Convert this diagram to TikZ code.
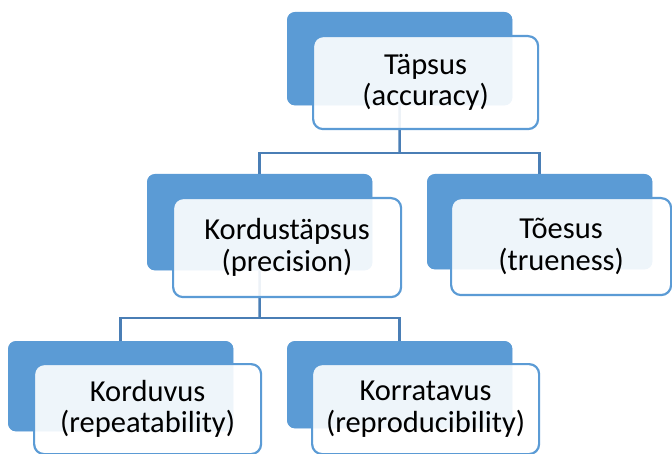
\documentclass[tikz,border=0pt]{standalone}
\usepackage{fontspec}
\setmainfont{Carlito}
\definecolor{backblue}{HTML}{5B9BD5}
\definecolor{connblue}{HTML}{4A7EB5}
\begin{document}
\begin{tikzpicture}[x=1pt,y=-1pt,
  backbox/.style={draw=none,fill=backblue,rounded corners=8pt,inner sep=0pt,anchor=north west},
  frontbox/.style={draw=backblue,line width=2.2pt,fill=white,fill opacity=0.9,text opacity=1,
    rounded corners=10pt,inner sep=0pt,anchor=north west,align=center,
    font=\fontsize{30.5}{31.5}\selectfont},
  conn/.style={draw=connblue,line width=2.5pt}]
\useasboundingbox (0,0) rectangle (672,454);
% back boxes
\node[backbox,minimum width=225pt,minimum height=93pt] (tb) at (287,12) {};
\node[backbox,minimum width=225pt,minimum height=96pt] (mlb) at (147,174) {};
\node[backbox,minimum width=225pt,minimum height=95pt] (mrb) at (427,174) {};
\node[backbox,minimum width=225pt,minimum height=90pt] (blb) at (8,341) {};
\node[backbox,minimum width=225pt,minimum height=87pt] (brb) at (287,341) {};
% connectors
\coordinate (j1) at (399.5,153);
\coordinate (j2) at (259.5,318);
\draw[conn] (tb.south) -- (j1);
\draw[conn] (mlb.north) |- (j1) -| (mrb.north);
\draw[conn] (mlb.south) -- (j2);
\draw[conn] (blb.north) |- (j2) -| (brb.north);
% redraw back boxes over connectors
\fill[backblue,rounded corners=8pt] (tb.north west) rectangle (tb.south east);
\fill[backblue,rounded corners=8pt] (mlb.north west) rectangle (mlb.south east);
\fill[backblue,rounded corners=8pt] (mrb.north west) rectangle (mrb.south east);
\fill[backblue,rounded corners=8pt] (blb.north west) rectangle (blb.south east);
\fill[backblue,rounded corners=8pt] (brb.north west) rectangle (brb.south east);
% front boxes
\node[frontbox,minimum width=225pt,minimum height=93pt] (tf) at (312,35) {Täpsus\\(accuracy)};
\node[frontbox,minimum width=228pt,minimum height=99pt] (mlf) at (172,197) {Kordustäpsus\\(precision)};
\node[frontbox,minimum width=220pt,minimum height=97pt] (mrf) at (450,197) {Tõesus\\(trueness)};
\node[frontbox,minimum width=227pt,minimum height=90pt] (blf) at (33,363) {Korduvus\\(repeatability)};
\node[frontbox,minimum width=227pt,minimum height=90pt] (brf) at (311,363) {Korratavus\\(reproducibility)};
\end{tikzpicture}
\end{document}
